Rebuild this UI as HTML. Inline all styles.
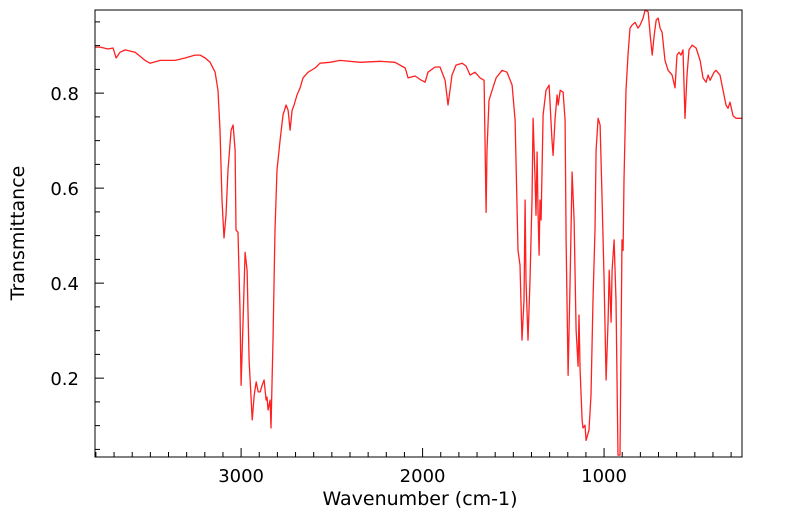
<!DOCTYPE html>
<html><head><meta charset="utf-8"><style>
html,body{margin:0;padding:0;background:#fff;}
svg{display:block;font-family:"DejaVu Sans","Liberation Sans",sans-serif;}
</style></head><body>
<svg id="chart" width="799" height="516" xmlns="http://www.w3.org/2000/svg">
<defs><clipPath id="clip"><rect x="95" y="10" width="647" height="447"/></clipPath></defs>
<g id="ticks"></g>
<g id="labels"></g>
<path id="line" fill="none" stroke="#ff2020" stroke-width="1.3" stroke-linejoin="round" clip-path="url(#clip)"/>
<rect x="95" y="10" width="647" height="447" fill="none" stroke="#000" stroke-width="1"/>
<text x="420" y="505" font-size="19" text-anchor="middle">Wavenumber (cm-1)</text>
<text transform="translate(24,233) rotate(-90)" font-size="19" text-anchor="middle">Transmittance</text>
</svg>
<script>
const wavenumbers=[3805,3777,3733,3705,3689,3667,3639,3584,3529,3502,3446,3364,3309,3254,3226,3198,3171,3143,3127,3116,3105,3094,3083,3072,3055,3044,3033,3028,3017,3006,3000,2989,2978,2967,2956,2939,2928,2917,2906,2895,2884,2873,2862,2857,2851,2840,2835,2824,2813,2802,2785,2769,2752,2741,2730,2719,2708,2692,2675,2659,2631,2592,2565,2510,2455,2344,2234,2152,2096,2080,2041,2014,1986,1970,1931,1904,1876,1860,1849,1838,1816,1782,1760,1738,1711,1683,1661,1650,1645,1634,1617,1595,1562,1535,1507,1490,1474,1463,1452,1441,1435,1430,1419,1408,1397,1391,1380,1375,1369,1364,1358,1353,1347,1336,1320,1303,1287,1281,1270,1259,1253,1242,1226,1215,1209,1198,1187,1176,1165,1154,1143,1138,1132,1121,1116,1105,1099,1083,1072,1061,1050,1044,1033,1022,1011,1000,989,978,972,961,956,945,934,923,912,901,895,890,879,868,857,846,829,813,802,785,774,757,746,735,724,713,702,691,680,664,647,625,609,598,587,576,565,554,543,532,515,493,471,455,438,427,416,394,383,361,350,328,317,306,289,273,240];
const transmittance=[0.897,0.897,0.893,0.895,0.874,0.886,0.891,0.886,0.869,0.863,0.869,0.869,0.874,0.880,0.880,0.874,0.865,0.844,0.806,0.722,0.575,0.495,0.543,0.638,0.722,0.733,0.680,0.512,0.507,0.343,0.185,0.322,0.465,0.427,0.238,0.112,0.164,0.192,0.171,0.171,0.185,0.196,0.154,0.160,0.133,0.154,0.095,0.280,0.512,0.638,0.701,0.754,0.775,0.764,0.722,0.764,0.775,0.796,0.811,0.832,0.844,0.853,0.863,0.865,0.869,0.865,0.867,0.865,0.853,0.832,0.836,0.829,0.823,0.844,0.855,0.855,0.827,0.775,0.806,0.838,0.859,0.863,0.857,0.838,0.844,0.832,0.827,0.549,0.680,0.785,0.806,0.832,0.848,0.844,0.817,0.743,0.469,0.438,0.280,0.364,0.575,0.406,0.280,0.406,0.575,0.747,0.617,0.543,0.676,0.554,0.459,0.575,0.533,0.754,0.806,0.817,0.701,0.669,0.747,0.796,0.775,0.806,0.802,0.743,0.491,0.206,0.406,0.634,0.533,0.301,0.225,0.333,0.217,0.112,0.095,0.101,0.069,0.091,0.164,0.364,0.512,0.680,0.747,0.733,0.575,0.406,0.196,0.322,0.427,0.318,0.427,0.491,0.364,0.038,0.038,0.491,0.469,0.617,0.806,0.880,0.937,0.943,0.949,0.937,0.943,0.958,0.975,0.971,0.922,0.880,0.922,0.954,0.958,0.937,0.928,0.869,0.848,0.838,0.811,0.880,0.886,0.880,0.891,0.747,0.838,0.891,0.901,0.895,0.869,0.832,0.823,0.838,0.827,0.844,0.848,0.838,0.817,0.775,0.768,0.781,0.752,0.747,0.747];
const xTickLabels=[3000,2000,1000];
const yTickLabels=[0.2,0.4,0.6,0.8];

const L=95,R=742,T=10,B=457;
const xMax=3805,xMin=240,yMin=0.034,yMax=0.975;
const xs=v=>L+(xMax-v)/(xMax-xMin)*(R-L);
const ys=v=>B-(v-yMin)/(yMax-yMin)*(B-T);
const NS="http://www.w3.org/2000/svg";

let d="";
wavenumbers.forEach((w,i)=>{d+=(i?"L":"M")+xs(w).toFixed(1)+","+ys(transmittance[i]).toFixed(1);});
document.getElementById("line").setAttribute("d",d);

const tg=document.getElementById("ticks"),lg=document.getElementById("labels");
function tick(x1,y1,x2,y2){const l=document.createElementNS(NS,"line");
l.setAttribute("x1",x1);l.setAttribute("y1",y1);l.setAttribute("x2",x2);l.setAttribute("y2",y2);
l.setAttribute("stroke","#000");l.setAttribute("stroke-width","1");


tg.appendChild(l);}
for(let w=300;w<=3800;w+=100){const x=xs(w);const major=w%1000===0;tick(x,B,x,B-(major?9:5));}
for(let k=1;k<=19;k++){const v=k*0.05;if(v<yMin||v>yMax)continue;const y=ys(v);const major=k%4===0;tick(L,y,L+(major?9:5),y);}
xTickLabels.forEach(v=>{const t=document.createElementNS(NS,"text");
t.setAttribute("x",xs(v));t.setAttribute("y",482);t.setAttribute("font-size","18");t.setAttribute("text-anchor","middle");
t.textContent=v;


lg.appendChild(t);});
yTickLabels.forEach(v=>{const t=document.createElementNS(NS,"text");
t.setAttribute("x",79);t.setAttribute("y",ys(v)+7);t.setAttribute("font-size","18");t.setAttribute("text-anchor","end");
t.textContent=v.toFixed(1);


lg.appendChild(t);});
</script>
</body></html>
